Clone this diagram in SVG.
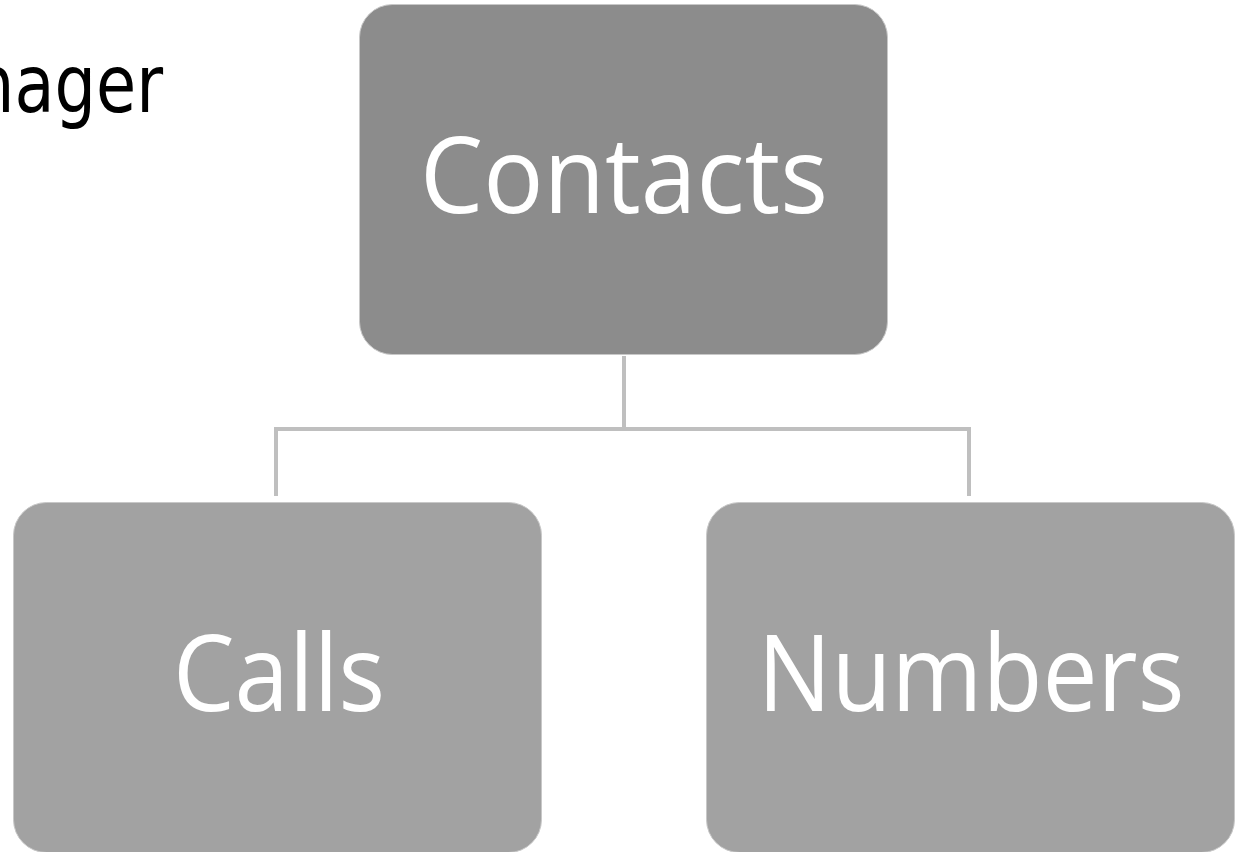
<svg xmlns="http://www.w3.org/2000/svg" width="1241" height="852" viewBox="0 0 1241 852">
<style>
.box{stroke:#c8c8c8;stroke-width:1}
.lbl{font-family:"Open Sans","Liberation Sans",sans-serif;font-size:106px;fill:#ffffff}
.conn{stroke:#bfbfbf;stroke-width:4;fill:none;stroke-linecap:square}
</style>
<rect width="1241" height="852" fill="#ffffff"/>
<text x="163" y="112" text-anchor="end" font-family="DejaVu Sans, sans-serif" font-size="80" fill="#000000" textLength="190" lengthAdjust="spacingAndGlyphs">nager</text>
<g id="connectors">
<path class="conn" d="M624 358 V429 M276 429 H969 M276 429 V494 M969 429 V494"/>
</g>
<g id="contacts">
<rect class="box" x="359.5" y="4.5" width="528" height="350" rx="33" fill="#8c8c8c"/>
<text class="lbl" x="624" y="213" text-anchor="middle" textLength="408" lengthAdjust="spacingAndGlyphs">Contacts</text>
</g>
<g id="calls">
<rect class="box" x="13.5" y="502.5" width="528" height="350" rx="33" fill="#a2a2a2"/>
<text class="lbl" x="279" y="711" text-anchor="middle" textLength="212" lengthAdjust="spacingAndGlyphs">Calls</text>
</g>
<g id="numbers">
<rect class="box" x="706.5" y="502.5" width="528" height="350" rx="33" fill="#a2a2a2"/>
<text class="lbl" x="971" y="711" text-anchor="middle" textLength="427" lengthAdjust="spacingAndGlyphs">Numbers</text>
</g>
</svg>
